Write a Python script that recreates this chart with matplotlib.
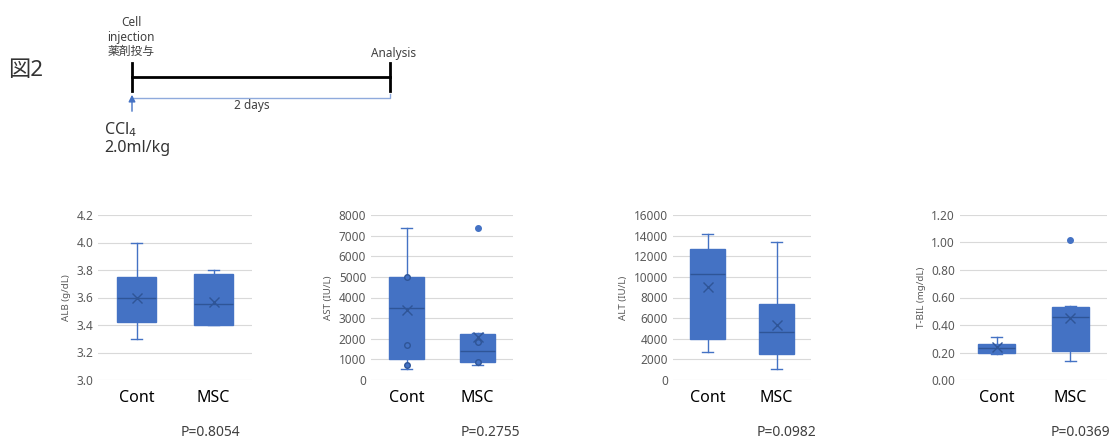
import matplotlib
matplotlib.use("Agg")
import matplotlib.pyplot as plt

plt.rcParams['font.family'] = ['Noto Sans', 'Noto Sans CJK JP']

# データ
groups = ['Cont', 'MSC']
ylabels = ['ALB (g/dL)', 'AST (IU/L)', 'ALT (IU/L)', 'T-BIL (mg/dL)']
pvalues = ['P=0.8054', 'P=0.2755', 'P=0.0982', 'P=0.0369']
ylims = [(3.0, 4.2), (0, 8000), (0, 16000), (0, 1.2)]
ysteps = [0.2, 1000, 2000, 0.2]
yfmt = ['{:.1f}', '{:.0f}', '{:.0f}', '{:.2f}']

wlo = [[3.30, 3.40], [550, 750], [2700, 1100], [0.19, 0.14]]
q1 = [[3.42, 3.40], [1000, 850], [4000, 2500], [0.20, 0.21]]
med = [[3.60, 3.55], [3500, 1400], [10300, 4700], [0.23, 0.46]]
q3 = [[3.75, 3.77], [5000, 2250], [12700, 7400], [0.26, 0.53]]
whi = [[4.00, 3.80], [7350, 2300], [14200, 13400], [0.31, 0.54]]
mean = [[3.60, 3.57], [3400, 2100], [9000, 5300], [0.24, 0.45]]
outl = [[[], []], [[], [7350]], [[], []], [[], [1.02]]]
inner = [[[], []], [[5000, 1700, 750], [1850, 850]], [[], []], [[], []]]

blue = '#4472C4'
dark = '#2F5597'

fig = plt.figure(figsize=(11.17, 4.41), dpi=100)

# 軸の位置 (ピクセル)
lefts = [98, 371, 673, 960]
rights = [252, 513, 811, 1107]
W, H = 1117, 441
top, bot = 215, 380
pcx = [210, 490, 787, 1080]

for i in range(4):
    ax = fig.add_axes([lefts[i] / W, (H - bot) / H, (rights[i] - lefts[i]) / W, (bot - top) / H])
    stats = []
    for j in range(2):
        stats.append(dict(whislo=wlo[i][j], q1=q1[i][j], med=med[i][j], q3=q3[i][j],
                          whishi=whi[i][j], mean=mean[i][j], fliers=outl[i][j], label=groups[j]))
    ax.bxp(stats, positions=[1, 2], widths=0.5, patch_artist=True, showmeans=True,
           capwidths=0.15,
           boxprops=dict(facecolor=blue, edgecolor=blue, linewidth=1),
           medianprops=dict(color=dark, linewidth=1),
           whiskerprops=dict(color=blue, linewidth=1),
           capprops=dict(color=blue, linewidth=1),
           meanprops=dict(marker='x', markeredgecolor=dark, markersize=7, markeredgewidth=1),
           flierprops=dict(marker='o', markerfacecolor=blue, markeredgecolor=blue, markersize=4))
    for j in range(2):
        if inner[i][j]:
            ax.plot([j + 1] * len(inner[i][j]), inner[i][j], 'o', color=dark,
                    markerfacecolor=blue, markersize=4, zorder=5)
    lo, hi = ylims[i]
    ax.set_ylim(lo, hi)
    ax.set_xlim(0.5, 2.5)
    ticks = []
    t = lo
    while t <= hi + 1e-9:
        ticks.append(t)
        t += ysteps[i]
    ax.set_yticks(ticks)
    ax.set_yticklabels([yfmt[i].format(v) for v in ticks], color='#595959', fontsize=8.5)
    ax.grid(axis='y', color='#D9D9D9', linewidth=0.8)
    ax.set_axisbelow(True)
    for s in ax.spines.values():
        s.set_visible(False)
    ax.tick_params(length=0)
    ax.tick_params(axis='x', labelsize=11.5, pad=7)
    ax.set_ylabel(ylabels[i], fontsize=7, color='#595959', labelpad=4)
    fig.text(pcx[i] / W, 1 - 433 / H, pvalues[i], ha='center', va='center',
             fontsize=10, color='#404040')

# 上の図 (タイムライン)
ov = fig.add_axes([0, 0, 1, 1])
ov.set_xlim(0, W)
ov.set_ylim(H, 0)
ov.axis('off')
ov.text(8, 70, '図2', fontsize=16, va='center', ha='left', color='#333333')
ov.plot([132, 390], [77, 77], color='black', lw=2)
ov.plot([132, 132], [63, 91], color='black', lw=2)
ov.plot([390, 390], [63, 91], color='black', lw=2)
ov.plot([132, 390, 390], [98, 98, 94], color='#8FAADC', lw=1)
ov.annotate('', xy=(132, 92), xytext=(132, 114),
            arrowprops=dict(arrowstyle='-|>', color='#4472C4', lw=1, mutation_scale=10))
ov.text(252, 106, '2 days', fontsize=8.5, ha='center', va='center', color='#404040')
ov.text(131, 37, 'Cell\ninjection\n薬剤投与', fontsize=8.5, ha='center', va='center',
        color='#404040', linespacing=1.15)
ov.text(394, 53, 'Analysis', fontsize=8.5, ha='center', va='center', color='#404040')
ov.text(104, 130, 'CCl$_4$', fontsize=11.5, ha='left', va='center', color='#333333')
ov.text(104, 148, '2.0ml/kg', fontsize=11.5, ha='left', va='center', color='#333333')

fig.savefig('out.png', dpi=100)
